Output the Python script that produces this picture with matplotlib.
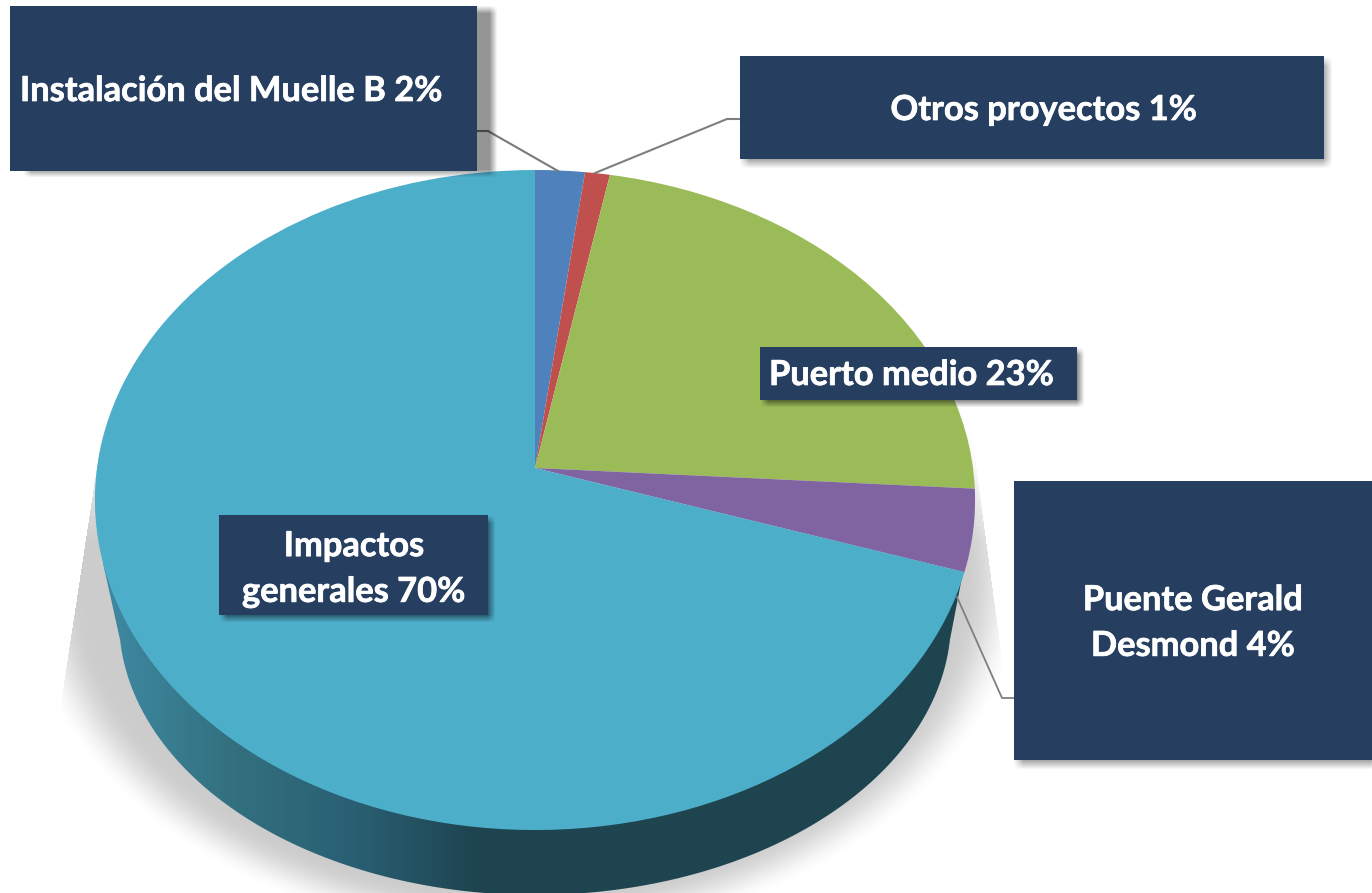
import numpy as np
import matplotlib
matplotlib.use('Agg')
import matplotlib.pyplot as plt
import matplotlib.patheffects as pe
from matplotlib.colors import LinearSegmentedColormap
from matplotlib.patches import Polygon, Rectangle
from matplotlib.transforms import Transform

# data
labels = ['Instalación del Muelle B 2%', 'Otros proyectos 1%', 'Puerto medio 23%',
          'Puente Gerald\nDesmond 4%', 'Impactos\ngenerales 70%']
values = [2, 1, 23, 4, 70]
colors = ['#4f81bd', '#c0504d', '#9bbb59', '#8064a2', '#4daeca']

BOX = '#263f61'
W, H = 1372, 893

plt.rcParams['font.family'] = ['Lato', 'DejaVu Sans']


class TiltTransform(Transform):
    # unit circle -> the tilted pie top, in pixels
    input_dims = 2
    output_dims = 2
    is_separable = False

    def transform_non_affine(self, xy):
        xy = np.asarray(xy, dtype=float)
        w = 1 + 0.097 * xy[:, 1]
        return np.column_stack((535 + 438 * xy[:, 0] / w, 468 - 326.9 * xy[:, 1] / w))


def add_shadow(ax, x0, y0, x1, y1, blur, alpha, zorder):
    xs = np.arange(x0 - blur, x1 + blur + 1)
    ys = np.arange(y0 - blur, y1 + blur + 1)
    ax_ = np.clip((xs - (x0 - blur)) / (2.0 * blur), 0, 1) * np.clip(((x1 + blur) - xs) / (2.0 * blur), 0, 1)
    ay_ = np.clip((ys - (y0 - blur)) / (2.0 * blur), 0, 1) * np.clip(((y1 + blur) - ys) / (2.0 * blur), 0, 1)
    img = np.zeros((len(ys), len(xs), 4))
    img[..., 3] = alpha * np.outer(ay_, ax_)
    ax.imshow(img, extent=(xs[0], xs[-1], ys[-1], ys[0]), aspect='auto', zorder=zorder, interpolation='bilinear')


fig = plt.figure(figsize=(W / 100, H / 100), dpi=100)
ax = fig.add_axes([0, 0, 1, 1])

# soft shadow under the pie
gx, gy = np.meshgrid(np.arange(W) + 0.5, np.arange(H) + 0.5)
r = np.sqrt(((gx - 522) / 490.0) ** 2 + ((gy - 575) / 355.0) ** 2)
fade = np.clip((1.03 - r) / 0.13, 0, 1)
fade = fade * fade * (3 - 2 * fade)
left_x = 97 + (gy - 467) * (65 - 97) / (677 - 467)
right_x = 970 + (gy - 420) * (1003 - 970) / (667 - 420)
inside = (gx > left_x) & (gx < right_x)
ramp = np.clip((gy - 410) / 130.0, 0, 1)
shadow = np.zeros((H, W, 4))
shadow[..., 3] = 0.2 * fade * inside * ramp
ax.imshow(shadow, extent=(0, W, H, 0), aspect='auto', zorder=1)

# side of the pie
t = np.linspace(np.arcsin(20 / 275.0), np.pi - np.arcsin(20 / 275.0), 200)
side_x = 535 - 416 * np.cos(t)
side_y = 620 + 275 * np.sin(t)
side_pts = np.column_stack((np.r_[side_x, 963, 103], np.r_[side_y, 572, 563]))
side_clip = Polygon(side_pts, closed=True, transform=ax.transData, fc='none', ec='none')
ax.add_patch(side_clip)
side_cmap = LinearSegmentedColormap.from_list('side', [(0, '#3f8ba6'), (0.15, '#33717f'), (0.29, '#2a6074'),
                                                       (0.43, '#1e4551'), (1, '#1e4450')])
grad = ax.imshow(np.linspace(0, 1, 256).reshape(1, -1), extent=(95, 975, 893, 540), aspect='auto',
                 cmap=side_cmap, zorder=2)
grad.set_clip_path(side_clip)

# pie top
wedges, _ = ax.pie(values, colors=colors, startangle=90, counterclock=False, radius=1,
                   wedgeprops={'linewidth': 0})
tilt = TiltTransform()
for w in wedges:
    w.set_transform(tilt + ax.transData)
    w.set_zorder(3)

ax.set_aspect('auto')

# leader lines
ax.plot([477, 488, 558], [131, 131, 171], color='#7a7a7a', lw=1.5, zorder=5)
ax.plot([740, 727, 595], [119, 119, 173], color='#7f7f7f', lw=1.5, zorder=5)
ax.plot([1014, 1002, 957], [698, 698, 597], color='#7f7f7f', lw=1.3, zorder=5)

# label boxes: x0, y0, x1, y1, shadow dx, dy, blur, alpha
boxes = [
    (10, 6, 477, 171, 17, 3, 4, 0.42),
    (740, 56, 1324, 159, 4, 5, 5, 0.38),
    (760, 347, 1077, 400, 4, 4, 4, 0.5),
    (1014, 481, 1372, 760, 4, 5, 5, 0.38),
    (219, 515, 488, 615, 4, 4, 4, 0.5),
]
text_pos = [(20, 91, 'left'), (1044, 110, 'center'), (769, 375, 'left'),
            (1193, 623, 'center'), (354, 569, 'center')]

for lab, b, tp in zip(labels, boxes, text_pos):
    x0, y0, x1, y1, dx, dy, blur, alpha = b
    add_shadow(ax, x0 + dx, y0 + dy, x1 + dx, y1 + dy, blur, alpha, 6)
    ax.add_patch(Rectangle((x0, y0), x1 - x0, y1 - y0, fc=BOX, ec='none', zorder=7))
    ax.text(tp[0], tp[1], lab, color='white', fontsize=24.8, fontweight='bold', ha=tp[2],
            va='center', multialignment='center', linespacing=1.53, zorder=8,
            path_effects=[pe.withStroke(linewidth=0.5, foreground='white')])

ax.set_xlim(0, W)
ax.set_ylim(H, 0)
fig.savefig('out.png', dpi=100)
